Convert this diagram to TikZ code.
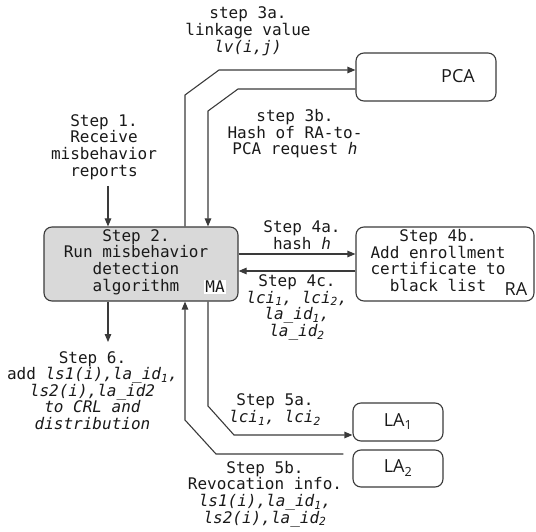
\documentclass[tikz,border=0pt]{standalone}
\usepackage{fontspec}
\setmonofont{DejaVu Sans Mono}
\newfontfamily\labfont{Open Sans}
\usetikzlibrary{arrows.meta}
\definecolor{ln}{HTML}{3A3A3A}
\definecolor{mafill}{HTML}{D9D9D9}
\tikzset{
  every picture/.style={x=1pt,y=-1pt},
  box/.style={draw=ln,line width=1.1pt,rounded corners=8pt,inner sep=0pt},
  txt/.style={font=\ttfamily\fontsize{16}{16.6}\selectfont,align=center,inner sep=0pt,text=black!90},
  lab/.style={font=\labfont\fontsize{18}{20}\selectfont,inner sep=0pt,text=black!90},
  conn/.style={draw=ln,line width=1.1pt},
  arr/.style={conn,-{Triangle[length=8pt,width=6.5pt]}},
}
\begin{document}
\begin{tikzpicture}
\useasboundingbox (0,0) rectangle (536,532);
% boxes
\node[box,minimum width=140pt,minimum height=48pt] (pca) at (426,77) {};
\node[box,fill=mafill,minimum width=194pt,minimum height=74pt] (ma) at (141,264) {};
\node[box,minimum width=178pt,minimum height=74pt] (ra) at (445,264) {};
\node[box,minimum width=90pt,minimum height=38pt] (la1) at (398,422) {};
\node[box,minimum width=90pt,minimum height=37pt] (la2) at (398,468.5) {};
% box labels
\node[lab] (pcal) at (458,76) {PCA};
\node[lab] (ral) at (516,289) {RA};
\node[lab] (la1l) at (398,422) {LA\textsubscript{1}};
\node[lab] (la2l) at (398,468) {LA\textsubscript{2}};
\node[txt] (matext) at (136,262) {Step 2.\\Run misbehavior\\detection\\algorithm};
\node[txt,fill=white,inner sep=1pt] (mal) at (215,287) {MA};
\node[txt] (ratext) at (438,260.5) {Step 4b.\\Add enrollment\\certificate to\\black list};
% texts
\node[txt] (t3a) at (248,31.3) {step 3a.\\linkage value\\\textit{lv(i,j)}};
\node[txt] (t3b) at (295,134) {step 3b.\\Hash of RA-to-\\PCA request \textit{h}};
\node[txt] (t1) at (104,147) {Step 1.\\Receive\\misbehavior\\reports};
\node[txt] (t4a) at (302,235) {Step 4a.\\hash \textit{h}};
\node[txt] (t4c) at (297,307.5) {Step 4c.\\\textit{lci\textsubscript{1}, lci\textsubscript{2},}\\\textit{la\_id\textsubscript{1},}\\\textit{la\_id\textsubscript{2}}};
\node[txt] (t6) at (92.5,390.4) {Step 6.\\add \textit{ls1(i),la\_id\textsubscript{1},}\\\textit{ls2(i),la\_id2}\\\textit{to CRL and}\\\textit{distribution}};
\node[txt] (t5a) at (275,409.5) {Step 5a.\\\textit{lci\textsubscript{1}, lci\textsubscript{2}}};
\node[txt] (t5b) at (265,494) {Step 5b.\\Revocation info.\\\textit{ls1(i),la\_id\textsubscript{1},}\\\textit{ls2(i),la\_id\textsubscript{2}}};
% connectors
\coordinate (s1) at (108,186);
\draw[arr] (s1) -- (s1 |- ma.north);
\draw[arr] (185,0 |- ma.north) -- (185,95) -- (219,70) -- (pca.west |- 0,70);
\draw[arr] (pca.west |- 0,89) -- (238,89) -- (208,111) -- (208,0 |- ma.north);
\draw[arr] (ma.east |- 0,254) -- (ra.west |- 0,254);
\draw[arr] (ra.west |- 0,271) -- (ma.east |- 0,271);
\coordinate (s6) at (108,342);
\draw[arr] (s6 |- ma.south) -- (s6);
\draw[arr] (208,0 |- ma.south) -- (208,406) -- (234,435) -- (la1.west |- 0,435);
\coordinate (s5b) at ([xshift=-9pt]la2.west |- 0,454);
\draw[arr] (s5b) -- (216,454) -- (185,420) -- (185,0 |- ma.south);
\end{tikzpicture}
\end{document}
